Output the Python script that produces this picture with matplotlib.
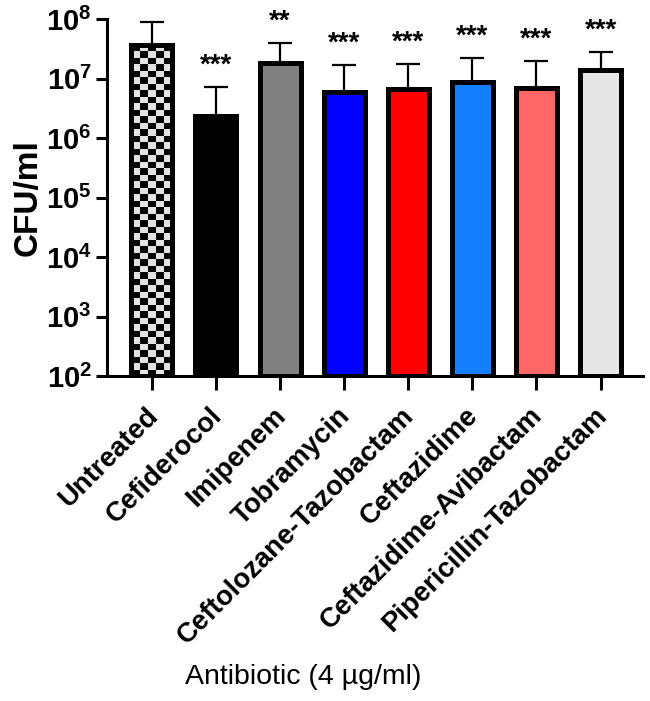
import numpy as np
import matplotlib
matplotlib.use("Agg")
import matplotlib.pyplot as plt
import matplotlib.transforms as mtransforms

categories = ["Untreated", "Cefiderocol", "Imipenem", "Tobramycin",
              "Ceftolozane-Tazobactam", "Ceftazidime", "Ceftazidime-Avibactam",
              "Pipericillin-Tazobactam"]
means = [3.7e7, 2.3e6, 1.8e7, 6.0e6, 6.7e6, 8.8e6, 6.9e6, 1.4e7]
err_top = [9.0e7, 7.2e6, 4.0e7, 1.7e7, 1.76e7, 2.2e7, 2.0e7, 2.8e7]
stars = ["", "***", "**", "***", "***", "***", "***", "***"]
colors = ["checker", "#000000", "#808080", "#0000ff", "#ff0000", "#1480ff",
          "#ff6666", "#e6e6e6"]
yticks = [1e2, 1e3, 1e4, 1e5, 1e6, 1e7, 1e8]
ytick_labels = [r"$\mathbf{10^{2}}$", r"$\mathbf{10^{3}}$", r"$\mathbf{10^{4}}$",
                r"$\mathbf{10^{5}}$", r"$\mathbf{10^{6}}$", r"$\mathbf{10^{7}}$",
                r"$\mathbf{10^{8}}$"]

plt.rcParams['font.family'] = ['Liberation Sans', 'DejaVu Sans']
plt.rcParams['mathtext.fontset'] = 'custom'
plt.rcParams['mathtext.rm'] = 'Liberation Sans'
plt.rcParams['mathtext.bf'] = 'Liberation Sans:bold'
plt.rcParams['mathtext.it'] = 'Liberation Sans:italic'

fig = plt.figure(figsize=(6.5, 7.01), dpi=100)
ax = fig.add_axes([0.1646, 0.4636, 0.989 - 0.1646, 0.5093])
ax.set_yscale('log')
ax.set_ylim(1e2, 1e8)
ax.set_xlim(-0.7, 7.66)

x = np.arange(len(categories))
width = 0.64
bottom = 1e2

low = np.zeros(len(means))
up = np.array(err_top) - np.array(means)
ax.errorbar(x, means, yerr=[low, up], fmt='none', ecolor='black',
            elinewidth=1.6, capsize=8.5, capthick=1.6, zorder=1)

for i, (m, c) in enumerate(zip(means, colors)):
    if c == "checker":
        ncols = 5
        xe = np.linspace(x[i] - width / 2, x[i] + width / 2, ncols + 1)
        nrows = int(round((np.log10(m) - np.log10(bottom)) * 59.6 / 6.5))
        ye = np.logspace(np.log10(bottom), np.log10(m), nrows + 1)
        Z = (np.add.outer(np.arange(nrows), np.arange(ncols)) % 2).astype(float)
        ax.pcolormesh(xe, ye, Z, cmap=matplotlib.colors.ListedColormap(["#000000", "#e2e2e2"]),
                      shading='flat', zorder=2)
        ax.bar(x[i], m - bottom, bottom=bottom, width=width, facecolor='none',
               edgecolor='black', linewidth=3.6, zorder=3)
    else:
        ax.bar(x[i], m - bottom, bottom=bottom, width=width, facecolor=c,
               edgecolor='black', linewidth=3.6, zorder=3)

for i, s in enumerate(stars):
    if s:
        ax.annotate(s, xy=(x[i], err_top[i]), xytext=(0, 6), textcoords='offset points',
                    ha='center', va='bottom', fontsize=20, fontweight='bold')

for sp in ['top', 'right']:
    ax.spines[sp].set_visible(False)
for sp in ['left', 'bottom']:
    ax.spines[sp].set_linewidth(2.2)
ax.tick_params(axis='both', width=2.2, length=8, pad=3)
ax.tick_params(axis='x', length=10, pad=7)

ax.set_yticks(yticks)
ax.set_yticklabels(ytick_labels, fontsize=21)
ax.yaxis.set_minor_locator(matplotlib.ticker.NullLocator())
ax.set_xticks(x)
ax.set_xticklabels(categories, rotation=45, ha='right', rotation_mode='anchor',
                   fontsize=19.8, fontweight='bold')
offset = mtransforms.ScaledTranslation(-0.07, -0.03, fig.dpi_scale_trans)
for lab in ax.get_xticklabels():
    lab.set_transform(lab.get_transform() + offset)

ax.set_ylabel("CFU/ml", fontsize=24, fontweight='bold', labelpad=2)
fig.text(0.466, 0.034, "Antibiotic (4 µg/ml)", ha='center', va='center', fontsize=20.5)

fig.savefig("out.png", dpi=100)
